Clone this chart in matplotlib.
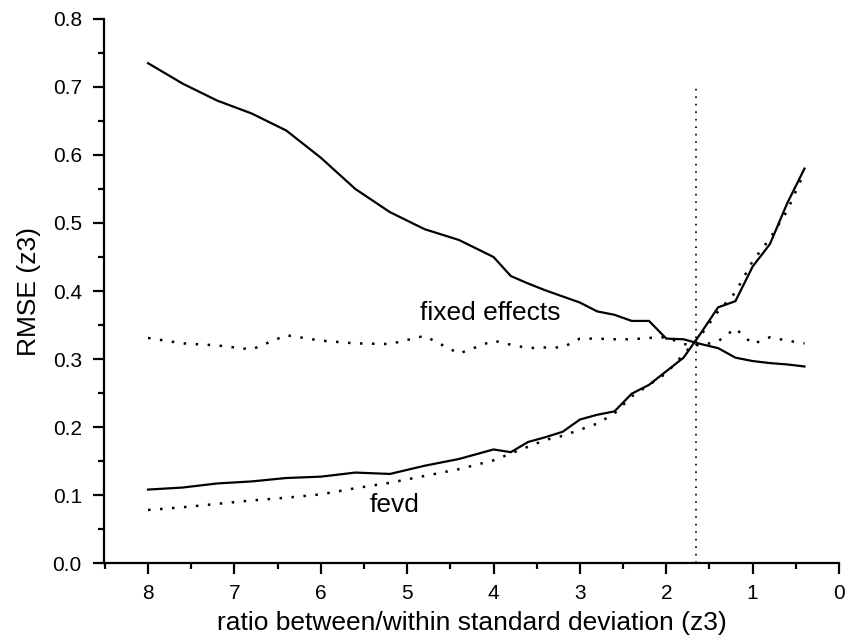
import matplotlib.pyplot as plt
from matplotlib.ticker import MultipleLocator

plt.rcParams['font.family'] = ['Liberation Sans', 'DejaVu Sans']

# ratio between/within standard deviation
ratio = [8.0, 7.6, 7.2, 6.8, 6.4, 6.0, 5.6, 5.2, 4.8, 4.4, 4.0, 3.8, 3.6, 3.4, 3.2,
         3.0, 2.8, 2.6, 2.4, 2.2, 2.0, 1.8, 1.6, 1.4, 1.2, 1.0, 0.8, 0.6, 0.4]

fe_solid = [0.735, 0.705, 0.680, 0.661, 0.636, 0.596, 0.550, 0.516, 0.491, 0.475,
            0.450, 0.422, 0.411, 0.401, 0.392, 0.383, 0.370, 0.365, 0.356, 0.356,
            0.330, 0.329, 0.322, 0.316, 0.302, 0.297, 0.294, 0.292, 0.289]
fe_dotted = [0.331, 0.323, 0.320, 0.314, 0.335, 0.327, 0.323, 0.322, 0.334, 0.308,
             0.327, 0.321, 0.316, 0.317, 0.317, 0.330, 0.330, 0.329, 0.329, 0.331,
             0.332, 0.322, 0.320, 0.326, 0.345, 0.322, 0.332, 0.327, 0.323]
fevd_solid = [0.108, 0.111, 0.117, 0.120, 0.125, 0.127, 0.133, 0.131, 0.143, 0.153,
              0.167, 0.163, 0.178, 0.185, 0.193, 0.211, 0.218, 0.223, 0.249, 0.262,
              0.282, 0.302, 0.338, 0.376, 0.385, 0.436, 0.469, 0.529, 0.580]
fevd_dotted = [0.078, 0.082, 0.087, 0.092, 0.096, 0.101, 0.110, 0.118, 0.128, 0.138,
               0.151, 0.161, 0.171, 0.181, 0.187, 0.196, 0.205, 0.220, 0.245, 0.262,
               0.279, 0.307, 0.335, 0.370, 0.398, 0.444, 0.477, 0.518, 0.575]

cutoff = 1.66

fig = plt.figure(figsize=(8.47, 6.39), dpi=100)
ax = fig.add_axes([0.1228, 0.1189, 0.8678, 0.8514])

dots = (0, (1, 3.8))
ax.plot(ratio, fe_solid, color='black', lw=1.6)
ax.plot(ratio, fe_dotted, color='black', lw=1.8, linestyle=dots)
ax.plot(ratio, fevd_solid, color='black', lw=1.6)
ax.plot(ratio, fevd_dotted, color='black', lw=1.8, linestyle=dots)
ax.plot([cutoff, cutoff], [0.0, 0.7], color='black', lw=1.2, linestyle=(0, (1, 3.5)))

ax.text(4.85, 0.357, 'fixed effects', fontsize=19, ha='left', va='baseline')
ax.text(5.44, 0.075, 'fevd', fontsize=19, ha='left', va='baseline')

ax.set_xlim(8.51, 0)
ax.set_ylim(0, 0.8)
ax.xaxis.set_major_locator(MultipleLocator(1))
ax.xaxis.set_minor_locator(MultipleLocator(0.5))
ax.yaxis.set_major_locator(MultipleLocator(0.1))
ax.yaxis.set_minor_locator(MultipleLocator(0.05))
ax.yaxis.set_major_formatter(plt.FormatStrFormatter('%.1f'))

for s in ['top', 'right']:
    ax.spines[s].set_visible(False)
for s in ['left', 'bottom']:
    ax.spines[s].set_linewidth(1.6)
ax.tick_params(which='major', direction='out', length=8, width=1.6, labelsize=15)
ax.tick_params(axis='x', which='major', pad=7)
ax.tick_params(axis='y', which='major', pad=8)
ax.tick_params(which='minor', direction='out', length=4, width=1.6)

ax.set_xlabel('ratio between/within standard deviation (z3)', fontsize=19, labelpad=6)
ax.set_ylabel('RMSE (z3)', fontsize=19, labelpad=8)

fig.savefig('out.png', dpi=100)
